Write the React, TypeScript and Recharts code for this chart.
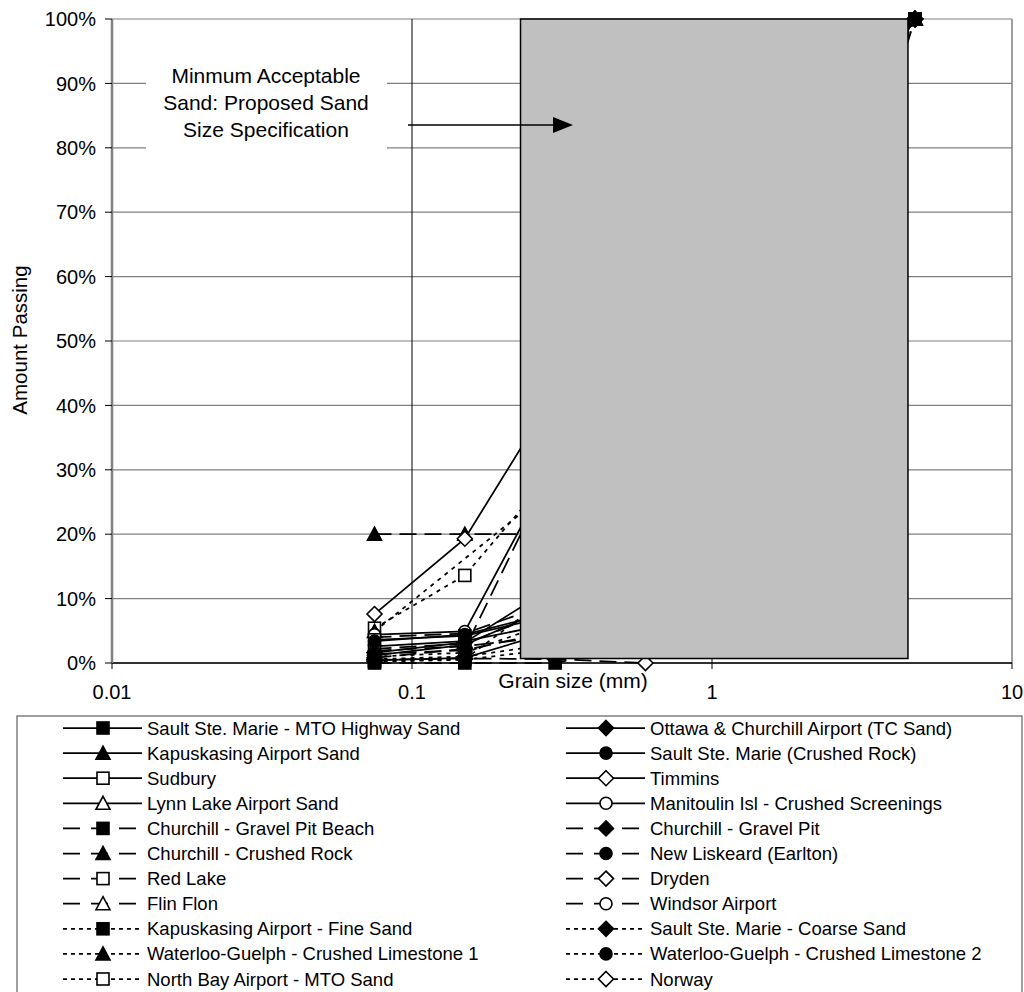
import React from "react";
import {
  CartesianGrid,
  Line,
  LineChart,
  ReferenceArea,
  ReferenceLine,
  XAxis,
  YAxis,
} from "recharts";

// sieve openings (mm)
const sieveSizes = [0.075, 0.15, 0.3, 0.6, 1.18, 2.36, 4.75];

// percent passing at each sieve
const saultMtoHighway = [0.4, 0.8, 5, 32, 66, 90, 100];
const ottawaChurchillAirport = [1.6, 3.2, 12, 45, 78, 95, 100];
const kapuskasingAirport = [1.2, 2.8, 9, 38, 72, 93, 100];
const saultCrushedRock = [3.4, 4.4, 8, 28, 52, 78, 100];
const sudbury = [3.6, 4.2, 7.5, 30, 62, 88, 100];
const timmins = [7.6, 19.3, 42, 75, 92, 98, 100];
const lynnLake = [2.6, 3.4, 6.2, 24, 55, 84, 100];
const manitoulin = [4.4, 4.9, 31, 62, 84, 96, 100];
const churchillPitBeach = [0, 0, 0, 3, 22, 62, 100];
const churchillGravelPit = [0.8, 2.2, 31, 60, 82, 95, 100];
const churchillCrushedRock = [20, 20, 20, 48, 72, 90, 100];
const newLiskeard = [1.4, 2, 5, 22, 50, 80, 100];
const redLake = [1.9, 2.6, 4.2, 20, 48, 78, 100];
const dryden = [0.5, 0.7, 0.6, 0, 14, 55, 100];
const flinFlon = [2.2, 3, 8.5, 35, 66, 90, 100];
const windsorAirport = [4, 4.6, 9.5, 40, 70, 92, 100];
const kapuskasingFine = [0.2, 0.5, 2.2, 30, 70, 94, 100];
const saultCoarse = [0.6, 1, 3, 12, 35, 70, 100];
const waterlooLimestone1 = [4.9, null, 27.5, 50, 70, 88, 100];
const waterlooLimestone2 = [1, 1.6, 6.5, 26, 58, 86, 100];
const northBayMto = [5.4, 13.6, 30, 58, 82, 96, 100];
const norway = [0.3, 0.6, 11, 42, 74, 94, 100];

// proposed specification band
const specMinSize = 0.23;
const specMaxSize = 4.5;
const specLow = 0.7;
const specHigh = 100;

const xTicks = [0.01, 0.1, 1, 10];
const yTicks = [0, 10, 20, 30, 40, 50, 60, 70, 80, 90, 100];

type Shape = "square" | "diamond" | "triangle" | "circle";

const SOLID = "";
const LONG_DASH = "17 8";
const SHORT_DASH = "4 5";

const series: {
  name: string;
  values: (number | null)[];
  dash: string;
  shape: Shape;
  filled: boolean;
}[] = [
  { name: "Sault Ste. Marie - MTO Highway Sand", values: saultMtoHighway, dash: SOLID, shape: "square", filled: true },
  { name: "Ottawa & Churchill Airport (TC Sand)", values: ottawaChurchillAirport, dash: SOLID, shape: "diamond", filled: true },
  { name: "Kapuskasing Airport Sand", values: kapuskasingAirport, dash: SOLID, shape: "triangle", filled: true },
  { name: "Sault Ste. Marie (Crushed Rock)", values: saultCrushedRock, dash: SOLID, shape: "circle", filled: true },
  { name: "Sudbury", values: sudbury, dash: SOLID, shape: "square", filled: false },
  { name: "Timmins", values: timmins, dash: SOLID, shape: "diamond", filled: false },
  { name: "Lynn Lake Airport Sand", values: lynnLake, dash: SOLID, shape: "triangle", filled: false },
  { name: "Manitoulin Isl - Crushed Screenings", values: manitoulin, dash: SOLID, shape: "circle", filled: false },
  { name: "Churchill - Gravel Pit Beach", values: churchillPitBeach, dash: LONG_DASH, shape: "square", filled: true },
  { name: "Churchill - Gravel Pit", values: churchillGravelPit, dash: LONG_DASH, shape: "diamond", filled: true },
  { name: "Churchill - Crushed Rock", values: churchillCrushedRock, dash: LONG_DASH, shape: "triangle", filled: true },
  { name: "New Liskeard (Earlton)", values: newLiskeard, dash: LONG_DASH, shape: "circle", filled: true },
  { name: "Red Lake", values: redLake, dash: LONG_DASH, shape: "square", filled: false },
  { name: "Dryden", values: dryden, dash: LONG_DASH, shape: "diamond", filled: false },
  { name: "Flin Flon", values: flinFlon, dash: LONG_DASH, shape: "triangle", filled: false },
  { name: "Windsor Airport", values: windsorAirport, dash: LONG_DASH, shape: "circle", filled: false },
  { name: "Kapuskasing Airport - Fine Sand", values: kapuskasingFine, dash: SHORT_DASH, shape: "square", filled: true },
  { name: "Sault Ste. Marie - Coarse Sand", values: saultCoarse, dash: SHORT_DASH, shape: "diamond", filled: true },
  { name: "Waterloo-Guelph - Crushed Limestone 1", values: waterlooLimestone1, dash: SHORT_DASH, shape: "triangle", filled: true },
  { name: "Waterloo-Guelph - Crushed Limestone 2", values: waterlooLimestone2, dash: SHORT_DASH, shape: "circle", filled: true },
  { name: "North Bay Airport - MTO Sand", values: northBayMto, dash: SHORT_DASH, shape: "square", filled: false },
  { name: "Norway", values: norway, dash: SHORT_DASH, shape: "diamond", filled: false },
];

const data = sieveSizes.map((size, i) => {
  const row: Record<string, number | null> = { size };
  series.forEach((s, k) => {
    row[`s${k}`] = s.values[i];
  });
  return row;
});

const FONT = "'Liberation Sans', Arial, sans-serif";

function Marker({ shape, filled, cx, cy }: { shape: Shape; filled: boolean; cx: number; cy: number }) {
  const fill = filled ? "#000" : "#fff";
  const common = { fill, stroke: "#000", strokeWidth: 1.6 };
  if (shape === "square") return <rect x={cx - 6} y={cy - 6} width={12} height={12} {...common} />;
  if (shape === "diamond")
    return <polygon points={`${cx},${cy - 7.5} ${cx + 7.5},${cy} ${cx},${cy + 7.5} ${cx - 7.5},${cy}`} {...common} />;
  if (shape === "triangle")
    return <polygon points={`${cx},${cy - 7} ${cx + 7},${cy + 6} ${cx - 7},${cy + 6}`} {...common} />;
  return <circle cx={cx} cy={cy} r={6} {...common} />;
}

function makeDot(shape: Shape, filled: boolean) {
  return (p: any) => {
    if (p.cx == null || p.cy == null || p.value == null) return <g key={p.index} />;
    return (
      <g key={p.index}>
        <Marker shape={shape} filled={filled} cx={p.cx} cy={p.cy} />
      </g>
    );
  };
}

// legend sample dash patterns, laid out so the gaps sit either side of the marker
const legendDash: Record<string, string | undefined> = {
  [SOLID]: undefined,
  [LONG_DASH]: "17 11",
  [SHORT_DASH]: "4 4",
};

function LegendBlock() {
  const rowY = (r: number) => 728 + r * 25.1;
  return (
    <g fontFamily={FONT} fontSize={18.5}>
      <rect x={17} y={716} width={1005} height={300} fill="#fff" stroke="#808080" strokeWidth={1.5} />
      {series.map((s, k) => {
        const col = k % 2;
        const row = Math.floor(k / 2);
        const x0 = col === 0 ? 63 : 566;
        const y = rowY(row);
        return (
          <g key={s.name}>
            <line x1={x0} x2={x0 + 79} y1={y} y2={y} stroke="#000" strokeWidth={1.75} strokeDasharray={legendDash[s.dash]} />
            <Marker shape={s.shape} filled={s.filled} cx={x0 + 40} cy={y} />
            <text x={x0 + 84} y={y + 6.5} fill="#000">
              {s.name}
            </text>
          </g>
        );
      })}
    </g>
  );
}

function Overlay() {
  return (
    <svg
      width={1024}
      height={992}
      style={{ position: "absolute", left: 0, top: 0, pointerEvents: "none" }}
    >
      <g fontFamily={FONT} fill="#000">
        <rect x={146} y={48} width={241} height={106} fill="#fff" />
        <text x={266} y={82.5} fontSize={21} textAnchor="middle">Minmum Acceptable</text>
        <text x={266} y={109.5} fontSize={21} textAnchor="middle">Sand: Proposed Sand</text>
        <text x={266} y={136.5} fontSize={21} textAnchor="middle">Size Specification</text>
        <line x1={408} x2={556} y1={125} y2={125} stroke="#000" strokeWidth={1.5} />
        <polygon points="573,125 553,117 553,133" fill="#000" />
        <text x={573} y={687.5} fontSize={21} textAnchor="middle">Grain size (mm)</text>
        <text
          x={0}
          y={0}
          fontSize={20.5}
          textAnchor="middle"
          transform="translate(27,340) rotate(-90)"
        >
          Amount Passing
        </text>
      </g>
      <LegendBlock />
    </svg>
  );
}

// first series ends up on top
const drawOrder = series.map((s, k) => ({ s, k })).reverse();

export default function App() {
  return (
    <div style={{ position: "absolute", left: 0, top: 0, width: 1024, height: 992, background: "#fff" }}>
      <LineChart
        width={1024}
        height={710}
        data={data}
        margin={{ top: 19, right: 12, bottom: 0, left: 0 }}
        style={{ fontFamily: FONT }}
      >
        <CartesianGrid vertical={false} stroke="#808080" strokeWidth={1.2} />
        <XAxis
          dataKey="size"
          type="number"
          scale="log"
          domain={[0.01, 10]}
          ticks={xTicks}
          allowDataOverflow
          tickFormatter={(v) => String(v)}
          height={47}
          tickSize={6}
          tickMargin={16}
          tick={{ fill: "#000", fontSize: 20 }}
          axisLine={{ stroke: "#000", strokeWidth: 1.5 }}
          tickLine={{ stroke: "#000" }}
        />
        <YAxis
          type="number"
          domain={[0, 100]}
          ticks={yTicks}
          width={112}
          tickFormatter={(v) => `${v}%`}
          tickSize={7}
          tickMargin={9}
          tick={{ fill: "#000", fontSize: 20 }}
          axisLine={{ stroke: "#808080", strokeWidth: 2.5 }}
          tickLine={{ stroke: "#000" }}
        />
        <ReferenceLine x={0.1} stroke="#000" strokeWidth={1} />
        <ReferenceLine x={1} stroke="#000" strokeWidth={1} />
        <ReferenceLine x={10} stroke="#808080" strokeWidth={1.5} />
        {drawOrder.map(({ s, k }) => (
          <Line
            key={s.name}
            dataKey={`s${k}`}
            name={s.name}
            stroke="#000"
            strokeWidth={1.75}
            strokeDasharray={s.dash || undefined}
            dot={makeDot(s.shape, s.filled)}
            activeDot={false}
            connectNulls
            isAnimationActive={false}
          />
        ))}
        <ReferenceArea
          x1={specMinSize}
          x2={specMaxSize}
          y1={specLow}
          y2={specHigh}
          fill="#c0c0c0"
          fillOpacity={1}
          stroke="#000"
          strokeWidth={1.5}
          zIndex={1900}
        />
      </LineChart>
      <Overlay />
    </div>
  );
}
